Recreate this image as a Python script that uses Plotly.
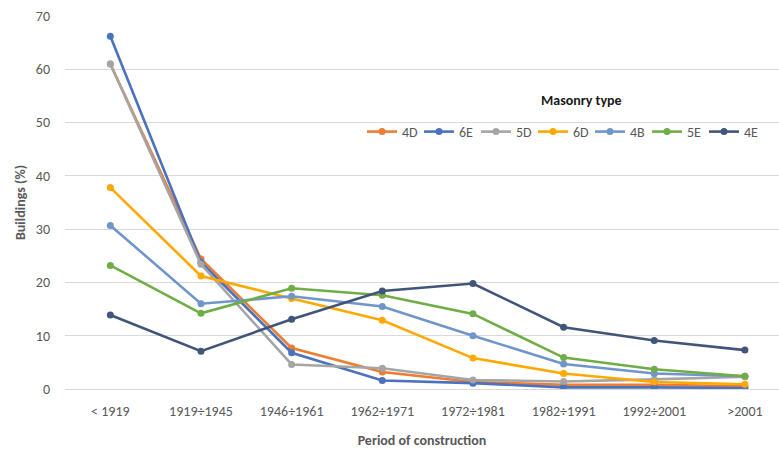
import plotly.graph_objects as go

# Construction periods (x categories)
periods = ["< 1919", "1919÷1945", "1946÷1961", "1962÷1971",
           "1972÷1981", "1982÷1991", "1992÷2001", ">2001"]

# Share of buildings (%) per masonry type
s_4D = [61.0, 24.4, 7.7, 3.2, 1.3, 0.8, 0.8, 0.5]
s_6E = [66.2, 23.8, 6.8, 1.6, 1.1, 0.3, 0.3, 0.2]
s_5D = [61.0, 23.4, 4.6, 3.9, 1.7, 1.4, 1.8, 2.3]
s_6D = [37.8, 21.2, 17.0, 12.9, 5.8, 2.9, 1.3, 0.9]
s_4B = [30.7, 16.0, 17.4, 15.5, 10.0, 4.7, 2.9, 2.4]
s_5E = [23.2, 14.2, 18.9, 17.6, 14.1, 5.9, 3.7, 2.4]
s_4E = [13.9, 7.1, 13.1, 18.4, 19.8, 11.6, 9.1, 7.3]

series_names = ["4D", "6E", "5D", "6D", "4B", "5E", "4E"]
series_values = [s_4D, s_6E, s_5D, s_6D, s_4B, s_5E, s_4E]
series_colors = ["#ED7D31", "#4A72BE", "#A5A5A5", "#FFA800",
                 "#6F96CB", "#70AD47", "#41557A"]

y_ticks = [0, 10, 20, 30, 40, 50, 60, 70]

FONT = "Carlito, Calibri, 'Liberation Sans Narrow', 'Liberation Sans', sans-serif"
TXT = "#595959"

# plot area in pixels
W, H = 779, 452
L, R, T, B = 65, 0, 16, 63
PW, PH = W - L - R, H - T - B

fig = go.Figure()
for name, vals, col in zip(series_names, series_values, series_colors):
    fig.add_trace(go.Scatter(
        x=list(range(len(periods))), y=vals, name=name,
        mode="lines+markers",
        line=dict(color=col, width=2.6),
        marker=dict(color=col, size=7),
    ))

fig.update_layout(
    width=W, height=H,
    margin=dict(l=L, r=R, t=T, b=B, autoexpand=False),
    paper_bgcolor="white", plot_bgcolor="white",
    font=dict(family=FONT, size=14, color=TXT),
    showlegend=True,
    legend=dict(
        orientation="h", x=(362 - L) / PW, y=(H - B - 132) / PH,
        xanchor="left", yanchor="middle",
        font=dict(family=FONT, size=14, color=TXT),
        itemwidth=30, tracegroupgap=0, bgcolor="rgba(0,0,0,0)",
        entrywidth=12, entrywidthmode="pixels",
    ),
    annotations=[dict(
        text="<b>Masonry type</b>",
        x=(581 - L) / PW, y=(H - B - 100) / PH,
        xref="paper", yref="paper", xanchor="center", yanchor="middle",
        showarrow=False, font=dict(family=FONT, size=14, color="#1A1A1A"),
    )],
)

fig.update_xaxes(
    range=[-0.5, (W - 110) / 90.7],
    tickmode="array", tickvals=list(range(len(periods))), ticktext=periods,
    showgrid=False, zeroline=False, showline=False, ticks="",
    ticklabelstandoff=12,
    tickfont=dict(family=FONT, size=14, color=TXT),
    title=dict(text="<b>Period of construction</b>", standoff=16,
               font=dict(family=FONT, size=14, color=TXT)),
)
fig.update_yaxes(
    range=[0, 70], tickvals=y_ticks,
    showgrid=True, gridcolor="#D9D9D9", gridwidth=1,
    zeroline=True, zerolinecolor="#D9D9D9", zerolinewidth=1,
    showline=False, ticks="", ticklabelstandoff=14,
    tickfont=dict(family=FONT, size=14, color=TXT),
    title=dict(text="<b>Buildings (%)</b>", standoff=6,
               font=dict(family=FONT, size=14, color=TXT)),
)

fig.write_html("out.html")
